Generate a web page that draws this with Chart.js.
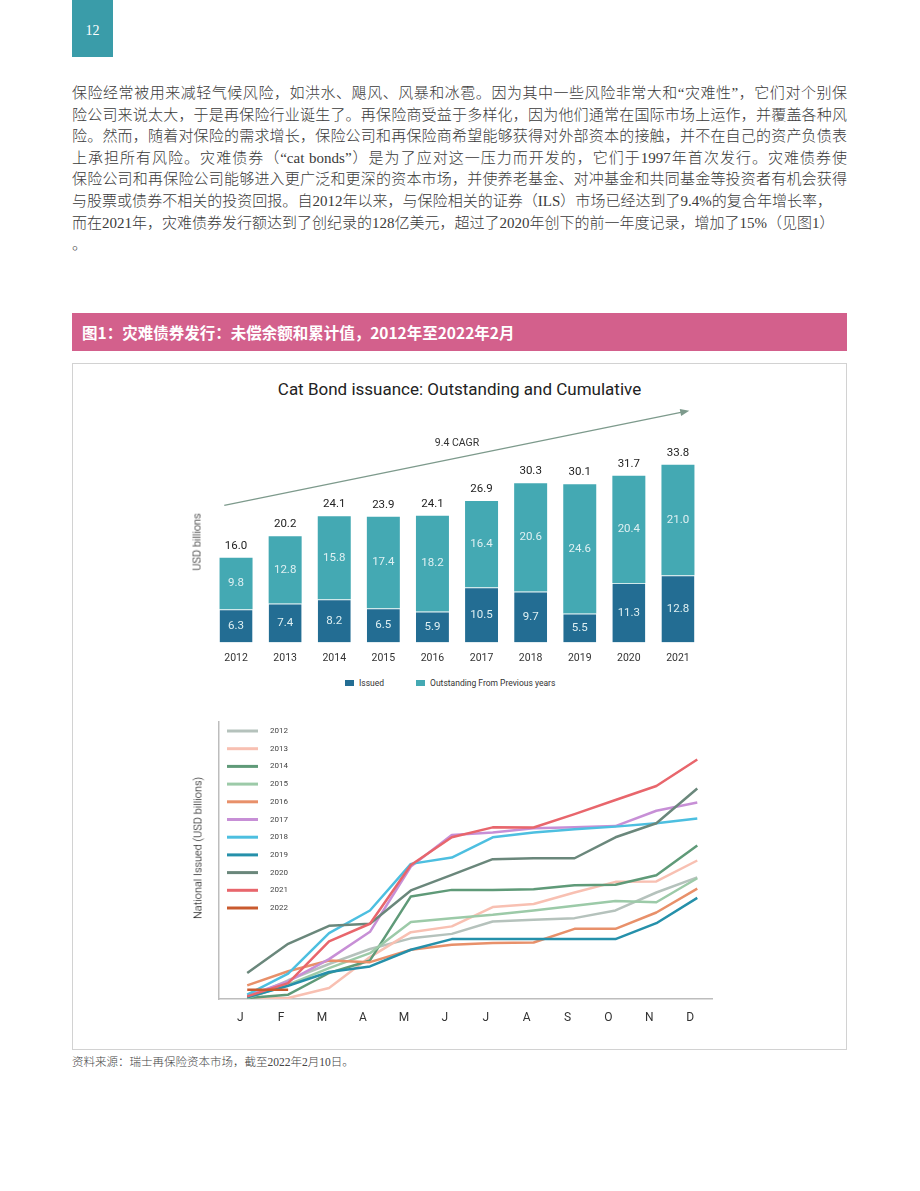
<!DOCTYPE html>
<html>
<head>
<meta charset="utf-8">
<script src="https://cdn.jsdelivr.net/npm/chart.js@4"></script>
<style>
  body { margin: 0; width: 920px; height: 1191px; position: relative; background: #fff; font-family: "Liberation Serif", "Noto Sans CJK SC", serif; color: #333; }
  .page-no { position: absolute; left: 72px; top: 0; width: 41px; height: 57px; background: #3a9ca9; color: #fff; font-size: 14px; text-align: center; line-height: 62px; }
  .para { position: absolute; left: 72px; top: 83px; width: 775px; font-size: 15px; line-height: 21.6px; color: #3a3a3a; font-weight: 300; }
  .para div { text-align: justify; text-align-last: justify; white-space: nowrap; }
  .para div.last { text-align-last: left; }
  .fig-title { position: absolute; left: 72px; top: 313px; width: 765px; height: 38px; padding-left: 10px; background: #d3608c; color: #fff; font-family: "Noto Sans CJK SC", sans-serif; font-weight: 700; font-size: 15.5px; line-height: 38px; }
  .box { position: absolute; left: 72px; top: 363px; width: 775px; height: 687px; box-sizing: border-box; border: 1px solid #d2d2d2; }
  .chart-title { position: absolute; left: 72px; top: 379px; width: 775px; text-align: center; font-family: Roboto, sans-serif; font-size: 17px; color: #222; }
  .axis-title { position: absolute; transform: translate(-50%, -50%) rotate(-90deg); white-space: nowrap; font-family: Roboto, sans-serif; font-size: 11px; font-weight: 300; color: #000; }
  #barWrap { position: absolute; left: 180px; top: 400px; width: 540px; height: 275px; }
  #lineWrap { position: absolute; left: 180px; top: 700px; width: 540px; height: 340px; }
  #barLegend { position: absolute; left: 345px; top: 678px; display: flex; align-items: center; font-family: Roboto, sans-serif; font-size: 8.5px; color: #333; }
  #barLegend span.sw { display: inline-block; width: 9px; height: 6px; margin-right: 5px; }
  #barLegend span.item { display: flex; align-items: center; margin-right: 32px; }
  .source { position: absolute; left: 72px; top: 1053px; font-size: 11.5px; color: #444; font-weight: 300; }
</style>
</head>
<body>
<div class="page-no">12</div>
<div class="para">
  <div>保险经常被用来减轻气候风险，如洪水、飓风、风暴和冰雹。因为其中一些风险非常大和“灾难性”，它们对个别保</div>
  <div>险公司来说太大，于是再保险行业诞生了。再保险商受益于多样化，因为他们通常在国际市场上运作，并覆盖各种风</div>
  <div>险。然而，随着对保险的需求增长，保险公司和再保险商希望能够获得对外部资本的接触，并不在自己的资产负债表</div>
  <div>上承担所有风险。灾难债券（“cat bonds”）是为了应对这一压力而开发的，它们于1997年首次发行。灾难债券使</div>
  <div>保险公司和再保险公司能够进入更广泛和更深的资本市场，并使养老基金、对冲基金和共同基金等投资者有机会获得</div>
  <div style="width:760px">与股票或债券不相关的投资回报。自2012年以来，与保险相关的证券（ILS）市场已经达到了9.4%的复合年增长率，</div>
  <div style="width:761px">而在2021年，灾难债券发行额达到了创纪录的128亿美元，超过了2020年创下的前一年度记录，增加了15%（见图1）</div>
  <div class="last">。</div>
</div>
<div class="fig-title">图1：灾难债券发行：未偿余额和累计值，2012年至2022年2月</div>
<div class="box"></div>
<div class="chart-title">Cat Bond issuance: Outstanding and Cumulative</div>
<div id="barWrap"><canvas id="bars"></canvas></div>
<div class="axis-title" style="left:197px; top:542px;">USD billions</div>
<div id="barLegend"></div>
<div id="lineWrap"><canvas id="lines"></canvas></div>
<div class="axis-title" style="left:198px; top:848px;">National Issued (USD billions)</div>
<div class="source">资料来源：瑞士再保险资本市场，截至2022年2月10日。</div>

<script>
// bar chart data
const years = ['2012', '2013', '2014', '2015', '2016', '2017', '2018', '2019', '2020', '2021'];
const issued = [6.3, 7.4, 8.2, 6.5, 5.9, 10.5, 9.7, 5.5, 11.3, 12.8];
const outstanding = [9.8, 12.8, 15.8, 17.4, 18.2, 16.4, 20.6, 24.6, 20.4, 21.0];
const totals = [16.0, 20.2, 24.1, 23.9, 24.1, 26.9, 30.3, 30.1, 31.7, 33.8];
const cagrText = '9.4 CAGR';
// arrow ends in data units: [category index, USD billions]
const cagrFrom = [-0.24, 26.1];
const cagrTo = [9.23, 44.1];
const cagrLabelAt = [4.5, 37.8];

// line chart data: cumulative issuance per month, USD billions
const months = ['J', 'F', 'M', 'A', 'M', 'J', 'J', 'A', 'S', 'O', 'N', 'D'];
const lineYears = ['2012', '2013', '2014', '2015', '2016', '2017', '2018', '2019', '2020', '2021', '2022'];
const cum2012 = [0.05, 1.0, 1.87, 2.67, 3.24, 3.48, 4.14, 4.23, 4.32, 4.73, 5.69, 6.5];
const cum2013 = [0.0, 0.05, 0.59, 2.24, 3.57, 3.88, 4.91, 5.08, 5.69, 6.26, 6.28, 7.4];
const cum2014 = [0.05, 0.23, 1.39, 2.06, 5.48, 5.83, 5.83, 5.87, 6.08, 6.1, 6.61, 8.2];
const cum2015 = [0.05, 0.76, 1.65, 2.45, 4.11, 4.32, 4.5, 4.73, 4.98, 5.24, 5.17, 6.45];
const cum2016 = [0.73, 1.48, 2.06, 1.97, 2.63, 2.9, 2.99, 3.02, 3.75, 3.75, 4.62, 5.9];
const cum2017 = [0.18, 0.94, 2.13, 3.59, 7.08, 8.76, 8.89, 9.12, 9.17, 9.24, 10.06, 10.5];
const cum2018 = [0.23, 1.35, 3.52, 4.73, 7.22, 7.56, 8.64, 8.89, 9.07, 9.21, 9.39, 9.65];
const cum2019 = [0.09, 0.71, 1.44, 1.74, 2.63, 3.2, 3.2, 3.2, 3.2, 3.2, 4.05, 5.4];
const cum2020 = [1.39, 2.95, 3.91, 4.02, 5.8, 6.63, 7.47, 7.52, 7.52, 8.64, 9.39, 11.25];
const cum2021 = [0.14, 0.85, 3.08, 4.02, 7.16, 8.64, 9.17, 9.16, 9.88, 10.63, 11.38, 12.8];
const cum2022 = [0.5, 0.5];
const lineSeries = [cum2012, cum2013, cum2014, cum2015, cum2016, cum2017, cum2018, cum2019, cum2020, cum2021, cum2022];
const lineColors = ['#b5c2bc', '#f8c0b2', '#5f9a78', '#9ccaa8', '#e8906a', '#c78fd6', '#4dbfe0', '#2590aa', '#6a877b', '#e8666c', '#c95a2e'];

Chart.defaults.font.family = 'Roboto, sans-serif';
Chart.defaults.color = '#333';
Chart.defaults.animation = false;

const barLabels = {
  id: 'barLabels',
  afterDatasetsDraw(chart) {
    const ctx = chart.ctx;
    ctx.save();
    ctx.textAlign = 'center';
    ctx.textBaseline = 'middle';
    ctx.font = '11.5px Roboto, sans-serif';
    chart.data.datasets.forEach((ds, di) => {
      chart.getDatasetMeta(di).data.forEach((bar, i) => {
        const p = bar.getProps(['x', 'y', 'base'], true);
        ctx.fillStyle = '#dff0f2';
        ctx.fillText(ds.data[i].toFixed(1), p.x, (p.y + p.base) / 2);
      });
    });
    const tops = chart.getDatasetMeta(chart.data.datasets.length - 1).data;
    ctx.fillStyle = '#222';
    totals.forEach((t, i) => ctx.fillText(t.toFixed(1), tops[i].x, tops[i].y - 12));

    // CAGR arrow
    const xs = chart.scales.x, ys = chart.scales.y;
    const x0 = xs.getPixelForValue(0), step = xs.getPixelForValue(1) - x0;
    const px = v => x0 + v * step;
    const ax = px(cagrFrom[0]), ay = ys.getPixelForValue(cagrFrom[1]);
    const bx = px(cagrTo[0]), by = ys.getPixelForValue(cagrTo[1]);
    const ang = Math.atan2(by - ay, bx - ax);
    ctx.strokeStyle = '#7d9a8c';
    ctx.fillStyle = '#7d9a8c';
    ctx.lineWidth = 1.3;
    ctx.beginPath();
    ctx.moveTo(ax, ay);
    ctx.lineTo(bx - 6 * Math.cos(ang), by - 6 * Math.sin(ang));
    ctx.stroke();
    ctx.beginPath();
    ctx.moveTo(bx, by);
    ctx.lineTo(bx - 9 * Math.cos(ang) + 3.5 * Math.sin(ang), by - 9 * Math.sin(ang) - 3.5 * Math.cos(ang));
    ctx.lineTo(bx - 9 * Math.cos(ang) - 3.5 * Math.sin(ang), by - 9 * Math.sin(ang) + 3.5 * Math.cos(ang));
    ctx.closePath();
    ctx.fill();
    ctx.fillStyle = '#333';
    ctx.font = '10.5px Roboto, sans-serif';
    ctx.fillText(cagrText, px(cagrLabelAt[0]), ys.getPixelForValue(cagrLabelAt[1]));
    ctx.restore();
  }
};

const barChart = new Chart('bars', {
  type: 'bar',
  data: {
    labels: years,
    datasets: [
      { label: 'Issued', data: issued, backgroundColor: '#236d93', borderColor: '#cfe8ea', borderWidth: { top: 1 } },
      { label: 'Outstanding From Previous years', data: outstanding, backgroundColor: '#44a9b3' }
    ]
  },
  options: {
    responsive: true,
    maintainAspectRatio: false,
    layout: { padding: { left: 31.5, right: 17.5, top: 6, bottom: 0 } },
    plugins: { legend: { display: false }, tooltip: { enabled: false } },
    datasets: { bar: { barPercentage: 0.672, categoryPercentage: 1 } },
    scales: {
      x: {
        stacked: true,
        grid: { display: false, drawTicks: false },
        border: { display: false },
        ticks: { padding: 10, font: { size: 10.5 }, color: '#333' }
      },
      y: {
        stacked: true, min: 0, max: 45, display: false
      }
    }
  },
  plugins: [barLabels]
});

// legend under the bars, built from the datasets
const legendEl = document.getElementById('barLegend');
barChart.data.datasets.forEach(ds => {
  const item = document.createElement('span');
  item.className = 'item';
  item.innerHTML = '<span class="sw" style="background:' + ds.backgroundColor + '"></span>' + ds.label;
  legendEl.appendChild(item);
});

const insideLegend = {
  id: 'insideLegend',
  afterDatasetsDraw(chart) {
    const { ctx, chartArea } = chart;
    ctx.save();
    ctx.font = '8px Roboto, sans-serif';
    ctx.textAlign = 'center';
    ctx.textBaseline = 'middle';
    chart.data.datasets.forEach((ds, i) => {
      const y = chartArea.top + 9 + i * 17.7;
      ctx.strokeStyle = ds.borderColor;
      ctx.lineWidth = 3;
      ctx.beginPath();
      ctx.moveTo(chartArea.left + 8, y);
      ctx.lineTo(chartArea.left + 39, y);
      ctx.stroke();
      ctx.fillStyle = '#444';
      ctx.fillText(ds.label, chartArea.left + 60, y);
    });
    ctx.restore();
  }
};

new Chart('lines', {
  type: 'line',
  data: {
    datasets: lineYears.map((yr, i) => ({
      label: yr,
      data: lineSeries[i].map((v, m) => ({ x: m, y: v })),
      borderColor: lineColors[i],
      borderWidth: 2.5,
      pointRadius: 0,
      tension: 0,
      borderJoinStyle: 'round',
      order: lineYears.length - i
    }))
  },
  options: {
    responsive: true,
    maintainAspectRatio: false,
    layout: { padding: { left: 39, right: 8, top: 22, bottom: 2.6 } },
    plugins: { legend: { display: false }, tooltip: { enabled: false } },
    scales: {
      x: {
        type: 'linear', min: -0.69, max: 11.36,
        grid: { display: false, drawTicks: false },
        border: { color: '#bdbdbd', width: 1.5 },
        afterBuildTicks: s => { s.ticks = months.map((m, i) => ({ value: i })); },
        ticks: { padding: 12, font: { size: 12 }, color: '#333', labelOffset: -7, callback: v => months[v] }
      },
      y: {
        min: 0, max: 14.8,
        grid: { display: false, drawTicks: false },
        border: { color: '#bdbdbd', width: 1.5 },
        ticks: { display: false }
      }
    }
  },
  plugins: [insideLegend]
});
</script>
</body>
</html>
